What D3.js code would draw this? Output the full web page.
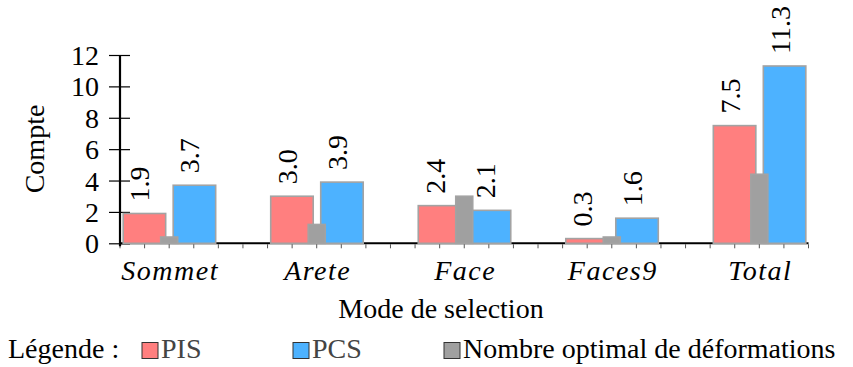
<!DOCTYPE html>
<html><head><meta charset="utf-8">
<script src="https://cdnjs.cloudflare.com/ajax/libs/d3/7.8.5/d3.min.js"></script>
<style>
body{margin:0;background:#fff;}
</style></head>
<body><svg id="c" width="853" height="367"></svg>
<script>
const categories = ["Sommet","Arete","Face","Faces9","Total"];
const pisValues = [1.9, 3.0, 2.4, 0.3, 7.5];
const pcsValues = [3.7, 3.9, 2.1, 1.6, 11.3];
const optimalValues = [0.4, 1.2, 3.0, 0.4, 4.4];
const yTicks = [0, 2, 4, 6, 8, 10, 12];
const legendLabels = ["PIS", "PCS", "Nombre optimal de déformations"];

const svg = d3.select("#c");

// pick an installed serif font
function measure(fam, s) {
  const t = svg.append("text").attr("font-family", fam).attr("font-size", 20).text(s);
  const w = t.node().getComputedTextLength();
  t.remove();
  return w;
}
const sample = "Nombre optimal de déformations";
const mono = measure("monospace", sample);
const candidates = ["Liberation Serif", "Tinos", "DejaVu Serif", "Noto Serif", "Times New Roman", "Times"];
let FONT = "serif";
for (const c of candidates) {
  if (Math.abs(measure(`"${c}", monospace`, sample) - mono) > 0.5) { FONT = `"${c}", serif`; break; }
}
const pw = measure(FONT, sample);
const FS = Math.min(28, Math.max(18, 20 * 380 / pw));

function txt(sel) { return sel.attr("font-family", FONT).attr("font-size", FS).attr("fill", "#000"); }

const x = d3.scaleLinear().domain([-1/3, categories.length - 1 + 1/3]).range([120, 808.5]);
const y = d3.scaleLinear().domain([0, 12]).range([243.3, 55]);

// minor x ticks
const minor = d3.range(-2, 6 * (categories.length - 1) + 3).map(k => k / 6);
svg.append("g").selectAll("line").data(minor).join("line")
  .attr("x1", d => x(d)).attr("x2", d => x(d))
  .attr("y1", y(0) + 1).attr("y2", y(0) + 5)
  .attr("stroke", "#555").attr("stroke-width", 1);

// x axis line
svg.append("line").attr("x1", x(-1/3)).attr("x2", x(categories.length - 1 + 1/3))
  .attr("y1", y(0)).attr("y2", y(0)).attr("stroke", "#000").attr("stroke-width", 2);

// y axis
const yAxis = d3.axisLeft(y).tickValues(yTicks).tickSize(0).tickPadding(0).tickFormat(d3.format("d"));
const yg = svg.append("g").attr("transform", "translate(120,0)").call(yAxis);
yg.select(".domain").remove();
yg.attr("font-family", FONT).attr("font-size", FS);
txt(yg.selectAll("text")).attr("x", -21).attr("dy", "0.34em");
yg.selectAll(".tick").append("line").attr("x1", -11).attr("x2", 10)
  .attr("stroke", "#000").attr("stroke-width", 1.2);
svg.append("line").attr("x1", 120).attr("x2", 120).attr("y1", y(12)).attr("y2", y(0) + 3)
  .attr("stroke", "#000").attr("stroke-width", 2.2);

// bars
const barStroke = "#a3a3a3";
const wide = 42.5, narrow = 17;
function bars(vals, off, w, fill) {
  svg.append("g").selectAll("rect").data(vals).join("rect")
    .attr("x", (d, i) => x(i) + off).attr("width", w)
    .attr("y", d => y(d)).attr("height", d => y(0) - y(d))
    .attr("fill", fill).attr("stroke", barStroke).attr("stroke-width", 1.6);
}
bars(pisValues, -46, wide, "#ff7f7f");
bars(pcsValues, 4, wide, "#4db2ff");
bars(optimalValues, -8.5, narrow, "#a0a0a0");

// value labels
function labels(vals, off) {
  txt(svg.append("g").selectAll("text").data(vals).join("text"))
    .attr("transform", (d, i) => `translate(${x(i) + off + wide / 2 + 5},${y(d) - 12}) rotate(-90)`)
    .attr("text-anchor", "start")
    .text(d => d.toFixed(1));
}
labels(pisValues, -46);
labels(pcsValues, 4);

// category labels
txt(svg.append("g").selectAll("text").data(categories).join("text"))
  .attr("x", (d, i) => x(i) + 1).attr("y", 280).attr("text-anchor", "middle")
  .attr("font-style", "italic").attr("letter-spacing", 1.5)
  .text(d => d);

// axis titles
txt(svg.append("text")).attr("x", 441).attr("y", 318).attr("text-anchor", "middle")
  .text("Mode de selection");
txt(svg.append("text")).attr("transform", "translate(44,149) rotate(-90)").attr("text-anchor", "middle")
  .text("Compte");

// legend
const lg = svg.append("g");
txt(lg.append("text")).attr("x", 8).attr("y", 358).text("Légende :");
const legX = [142, 293, 444];
const legFill = ["#ff7f7f", "#4db2ff", "#a0a0a0"];
const legText = ["#444", "#444", "#000"];
legendLabels.forEach((t, i) => {
  lg.append("rect").attr("x", legX[i]).attr("y", 342.5).attr("width", 16).attr("height", 16)
    .attr("fill", legFill[i]).attr("stroke", "#333").attr("stroke-width", 1);
  txt(lg.append("text")).attr("x", legX[i] + 19).attr("y", 358)
    .attr("fill", legText[i]).text(t);
});
</script></body></html>
